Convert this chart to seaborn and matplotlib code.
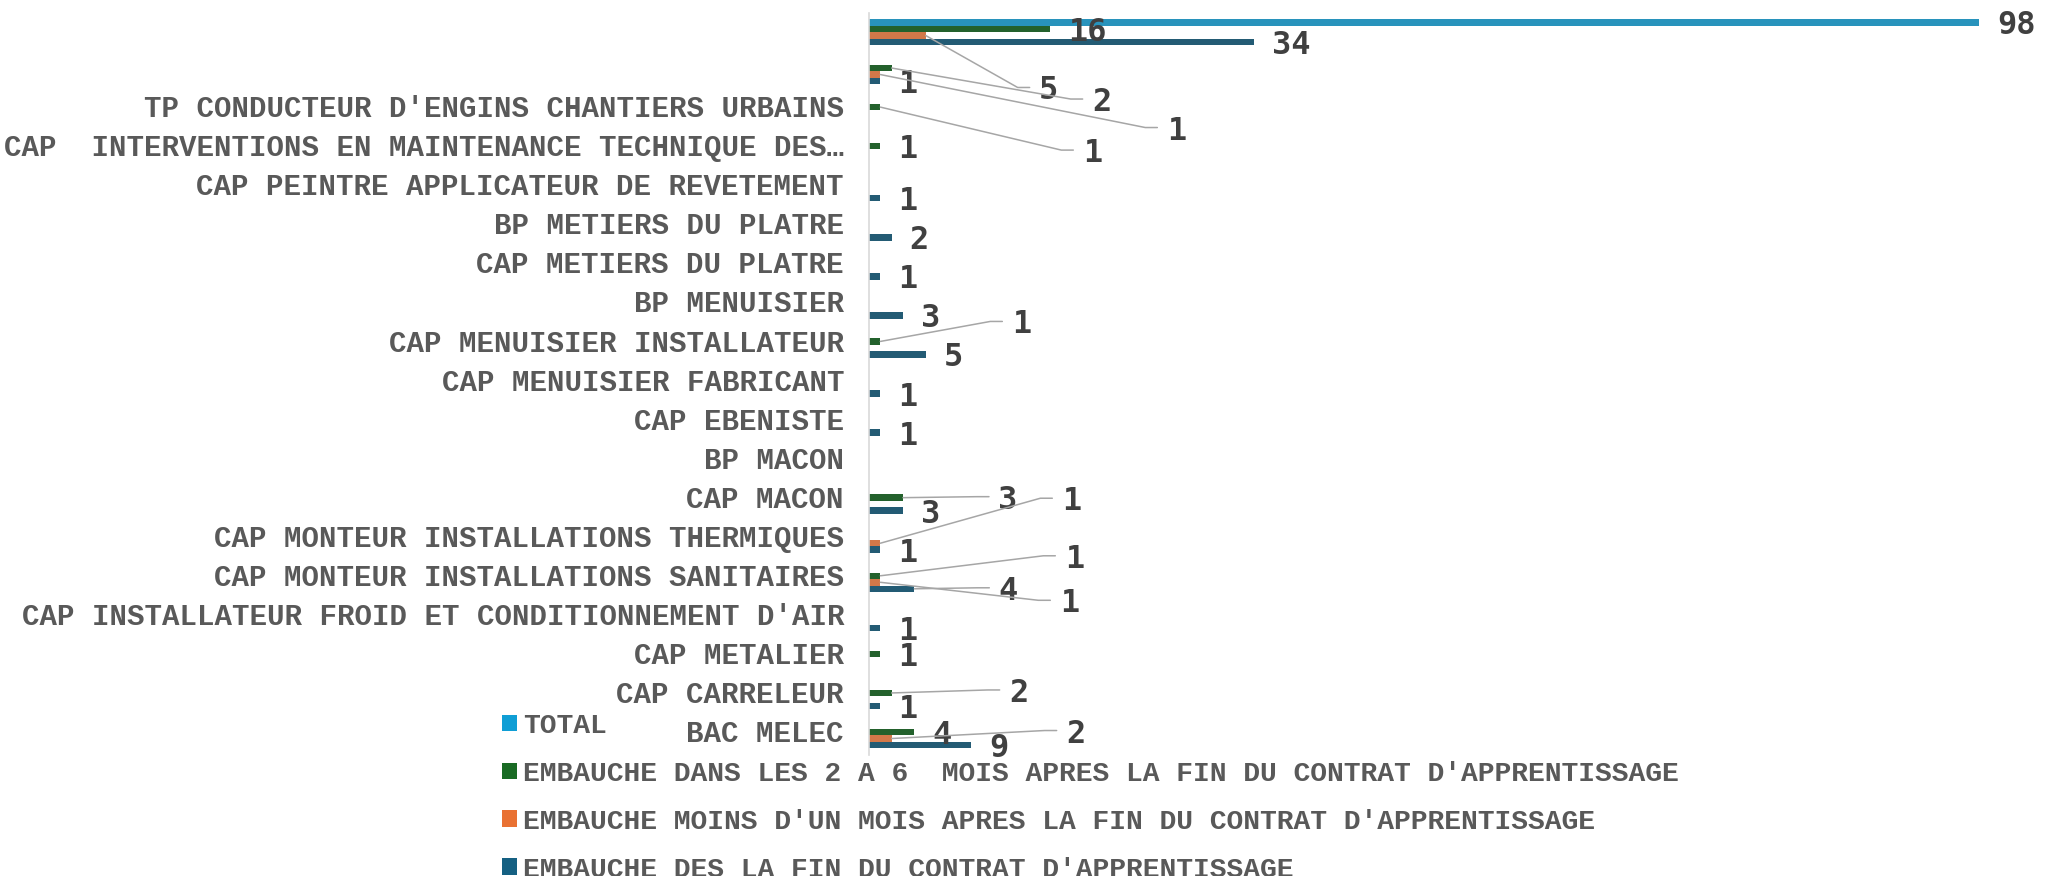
import pandas as pd
import matplotlib.pyplot as plt
import seaborn as sns
from matplotlib.patches import Patch
from matplotlib.lines import Line2D
from matplotlib.transforms import IdentityTransform, ScaledTranslation

# Categories, top to bottom (the two first rows have no label in the source)
categories = [" ", "  ",
              "TP CONDUCTEUR D'ENGINS CHANTIERS URBAINS",
              "CAP  INTERVENTIONS EN MAINTENANCE TECHNIQUE DES\u2026",
              "CAP PEINTRE APPLICATEUR DE REVETEMENT",
              "BP METIERS DU PLATRE",
              "CAP METIERS DU PLATRE",
              "BP MENUISIER",
              "CAP MENUISIER INSTALLATEUR",
              "CAP MENUISIER FABRICANT",
              "CAP EBENISTE",
              "BP MACON",
              "CAP MACON",
              "CAP MONTEUR INSTALLATIONS THERMIQUES",
              "CAP MONTEUR INSTALLATIONS SANITAIRES",
              "CAP INSTALLATEUR FROID ET CONDITIONNEMENT D'AIR",
              "CAP METALIER",
              "CAP CARRELEUR",
              "BAC MELEC"]

series = ["TOTAL",
          "EMBAUCHE DANS LES 2 A 6  MOIS APRES LA FIN DU CONTRAT D'APPRENTISSAGE",
          "EMBAUCHE MOINS D'UN MOIS APRES LA FIN DU CONTRAT D'APPRENTISSAGE",
          "EMBAUCHE DES LA FIN DU CONTRAT D'APPRENTISSAGE"]

total      = [98, 0, 0, 0, 0, 0, 0, 0, 0, 0, 0, 0, 0, 0, 0, 0, 0, 0, 0]
mois_2_6   = [16, 2, 1, 1, 0, 0, 0, 0, 1, 0, 0, 0, 3, 0, 1, 0, 1, 2, 4]
moins_mois = [5, 1, 0, 0, 0, 0, 0, 0, 0, 0, 0, 0, 0, 1, 1, 0, 0, 0, 2]
des_fin    = [34, 1, 0, 0, 1, 2, 1, 3, 5, 1, 1, 0, 3, 1, 4, 1, 0, 1, 9]

colors = ["#0F9ED5", "#196B24", "#E97132", "#156082"]

# labels moved away from the bar (pixel offset of label centre from bar end)
moved = {(0, 2): (123, 52), (1, 1): (210, 31), (1, 2): (296, 53),
         (2, 1): (212, 43), (8, 1): (141, -20), (12, 1): (105, -1),
         (13, 2): (191, -45), (14, 1): (194, -20), (14, 2): (189, 18),
         (14, 3): (94, -1), (17, 1): (127, -3), (18, 2): (184, -8)}

values = [total, mois_2_6, moins_mois, des_fin]
df = pd.concat([pd.DataFrame({"Formation": categories, "Serie": s, "Valeur": v})
                for s, v in zip(series, values)])

sns.set_style("white")
plt.rcParams["font.family"] = ["Liberation Mono", "DejaVu Sans Mono"]
plt.rcParams["font.weight"] = "bold"

fig = plt.figure(figsize=(20.49, 8.76), dpi=100)
ax = fig.add_axes([869 / 2049, 1 - 754.8 / 876, 1180 / 2049, 742.1 / 876])

sns.barplot(data=df, x="Valeur", y="Formation", hue="Serie", order=categories,
            hue_order=series, palette=colors, orient="h", width=0.666,
            errorbar=None, legend=False, linewidth=0, ax=ax)

ax.set_xlim(0, 104.15)
ax.set_ylim(len(categories) - 0.5, -0.5)
ax.set_xticks([])
ax.set_xlabel("")
ax.set_ylabel("")
for side in ["top", "right", "bottom"]:
    ax.spines[side].set_visible(False)
ax.spines["left"].set_color("#D9D9D9")
ax.spines["left"].set_linewidth(1.2)
ax.tick_params(axis="y", length=0, pad=18, labelsize=21, labelcolor="#595959")
# nudge category labels up a little
shift = ScaledTranslation(0, 3 / 72, fig.dpi_scale_trans)
for lab in ax.get_yticklabels():
    lab.set_transform(lab.get_transform() + shift)

# data labels
lab_kw = dict(fontsize=23, color="#404040", family="DejaVu Sans Mono",
              fontweight="bold", va="center_baseline")
for j, cont in enumerate(ax.containers):
    for i, bar in enumerate(cont):
        v = values[j][i]
        if v == 0:
            continue
        x_end = bar.get_x() + bar.get_width()
        yc = bar.get_y() + bar.get_height() / 2
        if (i, j) in moved:
            dx, dy = moved[(i, j)]
            ax.annotate(str(v), xy=(x_end, yc), xytext=(dx, -dy),
                        textcoords="offset pixels", ha="center", **lab_kw)
            sx, sy = ax.transData.transform((x_end, yc))
            cx, cy = sx + dx, sy - dy
            fig.add_artist(Line2D([sx, cx - 31, cx - 19], [sy, cy, cy],
                                  color="#A6A6A6", lw=1.1,
                                  transform=IdentityTransform()))
        else:
            ax.annotate(str(v), xy=(x_end, yc), xytext=(18, 0),
                        textcoords="offset pixels", ha="left", **lab_kw)

handles = [Patch(facecolor=c, edgecolor="none") for c in colors]
fig.legend(handles, series, loc="upper left", bbox_to_anchor=(502 / 2049, 1 - 713 / 876),
           frameon=False, fontsize=20.2, labelcolor="#595959", borderpad=0,
           borderaxespad=0, handlelength=0.54, handleheight=0.54,
           handletextpad=0.2, labelspacing=0.78)

plt.savefig("out.png", dpi=100)
